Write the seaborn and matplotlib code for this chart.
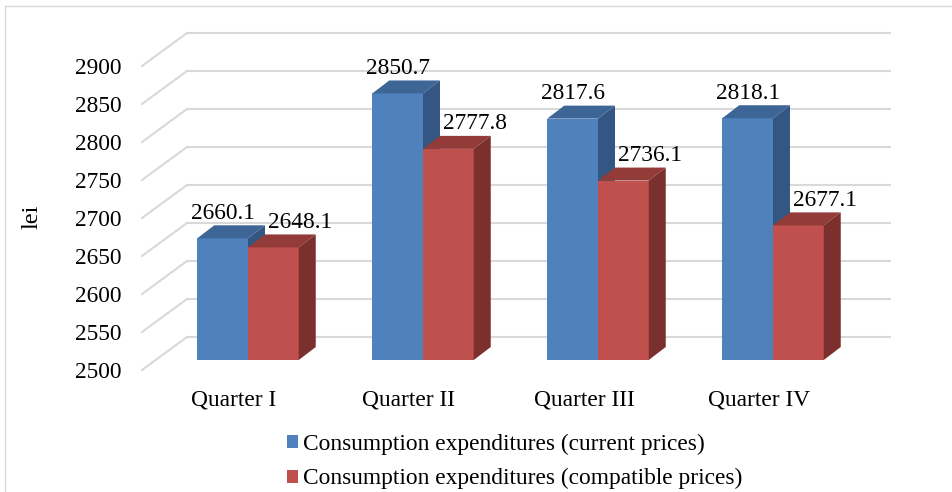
import matplotlib
matplotlib.use('Agg')
import matplotlib.pyplot as plt
import matplotlib.transforms as mtransforms
from matplotlib.patches import Polygon, Rectangle
import pandas as pd
import seaborn as sns

quarters = ['Quarter I', 'Quarter II', 'Quarter III', 'Quarter IV']
current_prices = [2660.1, 2850.7, 2817.6, 2818.1]
compatible_prices = [2648.1, 2777.8, 2736.1, 2677.1]
series_names = ['Consumption expenditures (current prices)',
                'Consumption expenditures (compatible prices)']
y_ticks = [2500, 2550, 2600, 2650, 2700, 2750, 2800, 2850, 2900]

front_colors = ['#4F81BD', '#C0504D']
top_colors = ['#3D6696', '#923B39']
side_colors = ['#335782', '#7B302E']
grid_color = '#D9D9D9'

df = pd.DataFrame({
    'quarter': quarters * 2,
    'value': current_prices + compatible_prices,
    'series': [series_names[0]] * len(quarters) + [series_names[1]] * len(quarters),
})

plt.rcParams['font.family'] = ['Liberation Serif', 'DejaVu Serif']
plt.rcParams['font.size'] = 16.8

W, H = 952, 492
fig = plt.figure(figsize=(W / 100, H / 100), dpi=100)

# pixel layout of the front plane of the bars
px_x = 175.0     # pixels per category
px_y = 0.76      # pixels per lei
x0_px = 248.0    # pixel x of first category centre
base_px = 360    # pixel row of the 2500 floor (front)
left_px = 142    # front-left corner of the side wall

ax = fig.add_axes([left_px / W, (H - base_px) / H, (W - left_px) / W, base_px / H])
sns.barplot(data=df, x='quarter', y='value', hue='series', palette=front_colors,
            saturation=1, width=0.58, errorbar=None, linewidth=0, legend=False, ax=ax)

ax.set_xlim((left_px - x0_px) / px_x, (W - x0_px) / px_x)
ax.set_ylim(y_ticks[0], y_ticks[0] + base_px / px_y)

def dx(p):
    return p / px_x

def dy(p):
    return p / px_y

# back wall gridlines and side wall lines
back_x0, back_x1 = (187 - x0_px) / px_x, (890 - x0_px) / px_x
for v in y_ticks:
    yb = v + dy(23)
    ax.plot([back_x0, back_x1], [yb, yb], color=grid_color, lw=1.5, zorder=1, clip_on=False)
    ax.plot([(left_px - x0_px) / px_x, back_x0], [v - dy(10), yb],
            color=grid_color, lw=1.5, zorder=1, clip_on=False)

# 3D tops and sides of bars + value labels
depth_x, depth_y = dx(17), dy(13)
label_dx = [0, 27]
base = y_ticks[0]
for i, cont in enumerate(ax.containers):
    for bar in cont:
        bar.set_zorder(3 + i)
        x, w, h = bar.get_x(), bar.get_width(), bar.get_height()
        top = Polygon([(x, h), (x + w, h), (x + w + depth_x, h + depth_y), (x + depth_x, h + depth_y)],
                      closed=True, facecolor=top_colors[i], edgecolor='none', zorder=3.5 + i)
        side = Polygon([(x + w, base), (x + w, h), (x + w + depth_x, h + depth_y),
                        (x + w + depth_x, base + depth_y)],
                       closed=True, facecolor=side_colors[i], edgecolor='none', zorder=3.5 + i)
        ax.add_patch(top)
        ax.add_patch(side)
        ax.annotate(f'{h:.1f}', xy=(x + w / 2, h), xytext=(label_dx[i], 25),
                    textcoords='offset pixels', ha='center', va='center', zorder=6)

for s in ax.spines.values():
    s.set_visible(False)

ax.set_yticks(y_ticks)
ax.tick_params(axis='y', length=0, pad=14.4)
ytrans = mtransforms.ScaledTranslation(0, -10 / 100, fig.dpi_scale_trans)
for lab in ax.get_yticklabels():
    lab.set_transform(lab.get_transform() + ytrans)

ax.tick_params(axis='x', length=0, pad=21.5)
xtrans = mtransforms.ScaledTranslation(-14 / 100, 0, fig.dpi_scale_trans)
for lab in ax.get_xticklabels():
    lab.set_transform(lab.get_transform() + xtrans)

ax.set_xlabel('')
ax.set_ylabel('lei', fontsize=17.5)
ax.yaxis.set_label_coords((43 - left_px) / (W - left_px), (base_px - 217) / base_px)

ax.legend(ax.containers, series_names, loc='upper left',
          bbox_to_anchor=(287 / W, 1 - 434 / H), bbox_transform=fig.transFigure,
          frameon=False, borderpad=0, borderaxespad=0, handlelength=0.47,
          handleheight=0.47, handletextpad=0.2, labelspacing=0.56)

fig.add_artist(Rectangle((5 / W, -0.1), 1.1, 1.1 - 6 / H, transform=fig.transFigure,
                         fill=False, edgecolor=grid_color, lw=1))

fig.savefig('out.png', dpi=100)
